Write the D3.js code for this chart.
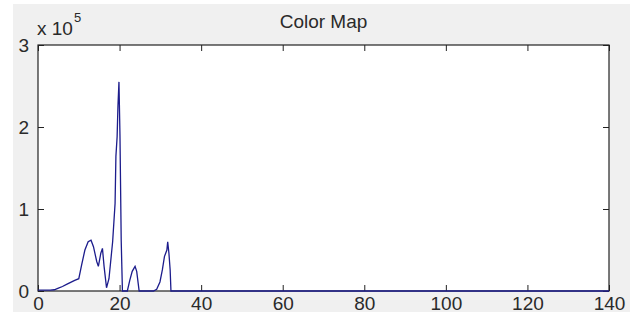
<!DOCTYPE html>
<html lang="en">
<head>
    <meta charset="UTF-8">
    <title>Color Map</title>
    <script src="https://cdn.jsdelivr.net/npm/d3@7"></script>
    <style>
        body { margin: 0; background: #fff; }
        svg { display: block; font-family: "Liberation Sans", Arial, sans-serif; }
        .tick text { fill: #2a2a2a; font-size: 19px; }
    </style>
</head>
<body>
    <div id="chart-space"></div>

    <script>
        // values (counts per bin)
        var binX = [0, 1, 2, 3, 4, 5, 6, 7, 8, 9, 10, 10.7, 11.5, 12.3, 13, 13.6, 14.4, 14.8,
            15.4, 15.8, 16.2, 16.8, 17.4, 18.3, 18.9, 19.1, 19.4, 19.6, 19.85, 20.1, 20.4, 20.7,
            21.9, 22.5, 23.1, 23.8, 24.2, 24.8, 28.3, 29.1, 29.9, 30.5, 31, 31.6, 31.8, 32.1,
            32.4, 32.6, 140];
        var counts = [1000, 1000, 1000, 1000, 1500, 3500, 5500, 8000, 10500, 13000, 15000, 32000,
            50000, 60000, 62000, 54000, 36000, 30000, 46000, 52000, 30000, 4000, 15000, 60000,
            107000, 164000, 188000, 225000, 255000, 189000, 62000, 0,
            0, 13000, 24000, 30000, 24000, 0, 0, 2000, 11000, 26000, 42000, 50000, 60000, 46000,
            26000, 0, 0];
        var xTicks = [0, 20, 40, 60, 80, 100, 120, 140];
        var yTicks = [0, 100000, 200000, 300000];

        var width = 638;
        var height = 321;
        var margin = {top: 45, right: 29, bottom: 30, left: 38};
        var chartWidth = width - margin.left - margin.right;
        var chartHeight = height - margin.top - margin.bottom;

        var svg = d3.select("#chart-space")
            .append("svg")
            .attr("width", width)
            .attr("height", height);

        // grey figure background
        svg.append("rect")
            .attr("x", 13).attr("y", 4)
            .attr("width", 617).attr("height", 308)
            .attr("fill", "#f0f0f0");

        var g = svg.append("g")
            .attr("transform", "translate(" + margin.left + "," + margin.top + ")");

        g.append("rect")
            .attr("width", chartWidth)
            .attr("height", chartHeight)
            .attr("fill", "#fff");

        var xScale = d3.scaleLinear().domain([0, 140]).range([0, chartWidth]);
        var yScale = d3.scaleLinear().domain([0, 300000]).range([chartHeight, 0]);

        // matlab style: ticks pointing inwards on every side
        var xAxis = g.append("g")
            .attr("transform", "translate(0," + chartHeight + ")")
            .call(d3.axisBottom(xScale).tickValues(xTicks).tickSizeInner(-6).tickSizeOuter(0).tickPadding(6));

        var yAxis = g.append("g")
            .call(d3.axisLeft(yScale).tickValues(yTicks).tickSizeInner(-6).tickSizeOuter(0).tickPadding(9)
                .tickFormat(function(d) { return d / 100000; }));

        g.append("g")
            .call(d3.axisTop(xScale).tickValues(xTicks).tickSizeInner(-6).tickSizeOuter(0).tickFormat(""));

        g.append("g")
            .attr("transform", "translate(" + chartWidth + ",0)")
            .call(d3.axisRight(yScale).tickValues(yTicks).tickSizeInner(-6).tickSizeOuter(0).tickFormat(""));

        g.selectAll(".domain").remove();
        g.selectAll(".tick line").attr("stroke", "#222");
        g.selectAll(".tick text").attr("font-family", null).attr("font-size", null);

        // box around the axes
        g.append("rect")
            .attr("width", chartWidth)
            .attr("height", chartHeight)
            .attr("fill", "none")
            .attr("stroke", "#222")
            .attr("stroke-width", 1.2);

        var line = d3.line()
            .x(function(d, i) { return xScale(binX[i]); })
            .y(function(d) { return yScale(d); });

        g.append("path")
            .datum(counts)
            .attr("d", line)
            .attr("fill", "none")
            .attr("stroke", "#1c1c8c")
            .attr("stroke-width", 1.3);

        // title and exponent label
        svg.append("text")
            .attr("x", margin.left + chartWidth / 2)
            .attr("y", 28)
            .attr("text-anchor", "middle")
            .attr("fill", "#2a2a2a")
            .style("font-size", "19px")
            .text("Color Map");

        var expo = svg.append("text")
            .attr("x", 37)
            .attr("y", 35)
            .attr("fill", "#2a2a2a")
            .style("font-size", "19px");
        expo.append("tspan").text("x 10");
        expo.append("tspan")
            .attr("dy", -13)
            .attr("dx", 1)
            .style("font-size", "13px")
            .text("5");
    </script>
</body>
</html>
